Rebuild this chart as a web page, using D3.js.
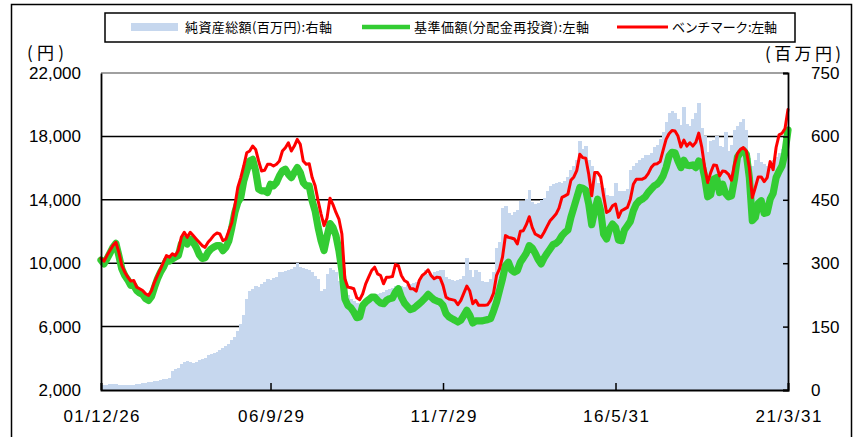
<!DOCTYPE html>
<html><head><meta charset="utf-8">
<script src="https://cdn.jsdelivr.net/npm/d3@7"></script>
<style>
html,body{margin:0;padding:0;background:#fff;}
svg{display:block;}
</style></head>
<body>
<svg id="chart" width="854" height="437"></svg>
<script>
// ---- data (monthly, 2001/12 .. 2021/3) ----
const xTickIndex = [0, 57, 115, 173, 231];
const xTickLabels = ["01/12/26", "06/9/29", "11/7/29", "16/5/31", "21/3/31"];
const leftTicks = [2000, 6000, 10000, 14000, 18000, 22000];
const rightTicks = [0, 150, 300, 450, 600, 750];
const legendLabels = ["純資産総額(百万円):右軸", "基準価額(分配金再投資):左軸", "ベンチマーク:左軸"];

const netAssets = [
10,12,12,14,15,15,13,11,11,11,12,13,14,15,16,17,18,19,21,22,23,25,26,28,45,50,52,62,67,68,66,65,66,72,74,76,82,86,88,
90,95,100,104,108,118,126,140,155,178,215,235,240,246,244,250,256,262,260,265,268,280,278,282,285,286,290,300,292,288,286,285,278,270,262,235,238,275,
288,285,280,258,250,262,225,215,210,205,200,205,212,218,222,225,228,230,232,236,240,242,245,248,246,244,248,250,252,255,262,270,285,275,270,278,282,285,284,
268,262,260,258,260,262,270,312,285,268,284,280,258,255,256,262,280,335,350,430,436,418,415,420,425,446,448,452,473,445,440,442,450,455,470,482,488,490,
492,490,495,505,520,530,545,588,570,578,545,530,510,490,482,478,462,460,458,490,472,470,472,475,520,530,538,545,548,555,556,560,575,580,595,610,635,655,660,
655,640,628,670,630,625,640,655,680,620,600,562,588,592,600,578,576,610,565,580,615,625,635,640,615,550,530,545,560,540,535,530,528,545,552,560,570,585,600
];

const navPrice = [
10200,9960,10270,10630,11000,11250,10480,9640,9220,8950,8600,8600,8280,8115,8030,7760,7650,7910,8490,9020,9430,9750,10170,10125,10270,10380,10480,11210,11530,11210,11530,11320,11000,10550,10300,10350,10690,10900,11020,
11110,11110,10795,11000,11420,12260,13200,13830,14150,15190,15820,16450,16550,15820,14670,14565,14565,14460,14980,14880,15090,15510,15820,15930,15610,15400,15720,16030,15720,15090,14880,14880,13940,13300,12260,11420,10800,11700,
12500,12260,11740,10800,9540,7760,7340,7190,6920,6565,6610,7340,7550,7700,7860,7860,7650,7490,7445,7650,7760,7800,8180,8390,7860,7490,7280,7070,7130,7280,7445,7610,7800,8030,7860,7700,7610,7550,7340,
6820,6610,6500,6400,6290,6400,6710,7030,6710,6230,6355,6355,6355,6400,6440,6500,6985,7550,8280,9015,9850,10060,9580,9435,9540,10060,10335,10630,11110,10960,10630,10230,9960,10335,10630,10900,11170,11250,
11420,11740,11950,12095,12890,13520,14145,14775,14730,14605,13730,12430,13310,14040,13310,11840,11530,12155,12470,12260,11470,11420,12095,12365,12640,13310,13730,13940,14040,14190,14460,14670,14880,14985,15190,15510,16030,16760,17000,
16970,16450,16030,16490,16180,16160,16200,16030,16450,16280,15400,14190,14315,15300,15400,14460,14985,14400,14190,14250,15300,16700,16970,17120,16870,15400,12680,12890,13770,13940,13140,13200,14040,14400,15400,15800,16150,17000,18400
];

const benchmark = [
10300,10125,10480,10800,11110,11320,10690,9850,9430,9120,8870,8910,8490,8390,8280,8070,7970,8280,8810,9230,9640,10060,10480,10380,10590,10480,10800,11630,11950,11630,11950,11740,11530,11320,11110,11000,11320,11530,11770,
11905,11840,11420,11530,12050,12575,13620,14775,15400,16135,16970,17080,17390,17180,16450,15820,15860,16240,16240,16135,16240,16450,17080,17290,17600,17080,17390,17810,17500,16450,16240,16280,15400,14880,13940,13100,12370,12850,
14100,13700,13200,12785,11840,9015,8490,8450,8390,7820,7700,8070,8700,9120,9540,9750,9330,9225,8700,9120,9120,9160,9915,9850,9225,8910,8800,8390,8390,8240,8910,9225,9370,9580,9225,9015,9120,9080,8600,
7860,7740,7700,7655,7380,7655,8115,8555,8240,7445,7655,7340,7340,7340,7380,7655,8115,9225,9640,10380,11740,11630,11590,11530,11215,12010,12050,12430,12930,12260,11840,11740,11630,11950,12325,12680,12890,13100,
13475,14150,14250,14355,15235,15445,15860,16870,16660,16620,15610,14250,15715,15715,15445,14250,13200,13310,13620,13730,12890,13310,13415,13520,14040,14985,15300,15300,15300,15400,15655,16030,16240,16280,16410,17120,17810,18170,18370,
18335,18020,17330,17770,17390,17600,17390,17620,18210,17330,16030,15090,15715,16200,16160,15510,15820,15780,15610,15235,16240,16910,17180,17290,17080,16030,14145,14775,15445,15445,15150,15400,16410,15900,17300,18100,18200,18500,19700
];

// ---- layout ----
const L = 101, R = 788, T = 73, B = 390;
const svg = d3.select("#chart");
const n = netAssets.length;
const x = d3.scaleLinear().domain([0, n - 1]).range([L, R]);
const yL = d3.scaleLinear().domain([2000, 22000]).range([B, T]);
const yR = d3.scaleLinear().domain([0, 750]).range([B, T]);
const step = x(1) - x(0);

const numFont = "'Liberation Sans', Arial, sans-serif";
const jpFont = "'Noto Sans CJK JP', sans-serif";

svg.append("rect").attr("width", 854).attr("height", 437).attr("fill", "#fff");
// outer frame
svg.append("rect").attr("x", 11.5).attr("y", 4.5).attr("width", 840).attr("height", 440)
  .attr("fill", "none").attr("stroke", "#000").attr("stroke-width", 1.5);

// legend
const lg = svg.append("g");
lg.append("rect").attr("x", 105).attr("y", 13).attr("width", 690).attr("height", 29)
  .attr("fill", "#fff").attr("stroke", "#000").attr("stroke-width", 1.5);
lg.append("rect").attr("x", 131).attr("y", 23).attr("width", 47).attr("height", 8).attr("fill", "#c6d7ee");
lg.append("line").attr("x1", 362).attr("x2", 410).attr("y1", 27).attr("y2", 27).attr("stroke", "#33cc33").attr("stroke-width", 4.5);
lg.append("line").attr("x1", 617).attr("x2", 668).attr("y1", 27).attr("y2", 27).attr("stroke", "#ff0000").attr("stroke-width", 3);
const legX = [185, 414, 672];
const legW = [147, 175, 105];
legendLabels.forEach((t, k) => {
  lg.append("text").attr("x", legX[k]).attr("y", 27).attr("dy", "0.36em")
    .attr("font-family", jpFont).attr("font-size", 13).attr("fill", "#000")
    .attr("textLength", legW[k]).attr("lengthAdjust", "spacing").text(t);
});

// gridlines (behind bars)
svg.append("g").selectAll("line").data(leftTicks.filter(v => v > 2000 && v < 22000)).join("line")
  .attr("x1", L).attr("x2", R).attr("y1", d => yL(d)).attr("y2", d => yL(d))
  .attr("stroke", "#000").attr("stroke-width", 1.5);

// bars
const clip = svg.append("clipPath").attr("id", "pc");
clip.append("rect").attr("x", L).attr("y", T).attr("width", R - L).attr("height", B - T);
svg.append("g").attr("clip-path", "url(#pc)").selectAll("rect").data(netAssets).join("rect")
  .attr("x", (d, i) => x(i) - step / 2)
  .attr("width", step + 0.6)
  .attr("y", d => yR(d))
  .attr("height", d => B - yR(d))
  .attr("fill", "#c6d7ee")
  .attr("shape-rendering", "crispEdges");

// top border
svg.append("line").attr("x1", L).attr("x2", R).attr("y1", T).attr("y2", T).attr("stroke", "#808080").attr("stroke-width", 1.5);

// lines
const lineL = d3.line().x((d, i) => x(i)).y(d => yL(d));
svg.append("path").attr("d", lineL(navPrice)).attr("fill", "none").attr("stroke", "#33cc33")
  .attr("stroke-width", 7.2).attr("stroke-linejoin", "round").attr("stroke-linecap", "round");
svg.append("path").attr("d", lineL(benchmark)).attr("fill", "none").attr("stroke", "#ff0000")
  .attr("stroke-width", 3).attr("stroke-linejoin", "round").attr("stroke-linecap", "round");

// axes
const axL = d3.axisLeft(yL).tickValues(leftTicks).tickSize(0).tickPadding(20).tickFormat(d3.format(","));
const gL = svg.append("g").attr("transform", `translate(${L},0)`).call(axL);
const axR = d3.axisRight(yR).tickValues(rightTicks).tickSize(-5).tickPadding(23);
const gR = svg.append("g").attr("transform", `translate(${R},0)`).call(axR);
const axB = d3.axisBottom(x).tickValues(xTickIndex).tickSize(-7).tickPadding(20)
  .tickFormat((d, k) => xTickLabels[k]);
const gB = svg.append("g").attr("transform", `translate(0,${B})`).call(axB);
[gL, gR, gB].forEach(g => {
  g.select(".domain").attr("stroke", "#000").attr("stroke-width", 1.8);
  g.selectAll(".tick line").attr("stroke", "#000").attr("stroke-width", 1.5);
  g.selectAll("text").attr("font-family", numFont).attr("font-size", 17).attr("fill", "#000");
});
gB.selectAll(".tick text").attr("dy", "0.71em")
  .attr("textLength", (d, k) => k === 0 ? 76 : 66).attr("lengthAdjust", "spacing");

// axis unit labels
svg.append("text").attr("x", 27).attr("y", 53).attr("dy", "0.36em")
  .attr("font-family", jpFont).attr("font-size", 17).attr("textLength", 37).attr("lengthAdjust", "spacing").text("(円)");
svg.append("text").attr("x", 765).attr("y", 54).attr("dy", "0.36em")
  .attr("font-family", jpFont).attr("font-size", 17).attr("textLength", 76).attr("lengthAdjust", "spacing").text("(百万円)");
</script>
</body></html>
